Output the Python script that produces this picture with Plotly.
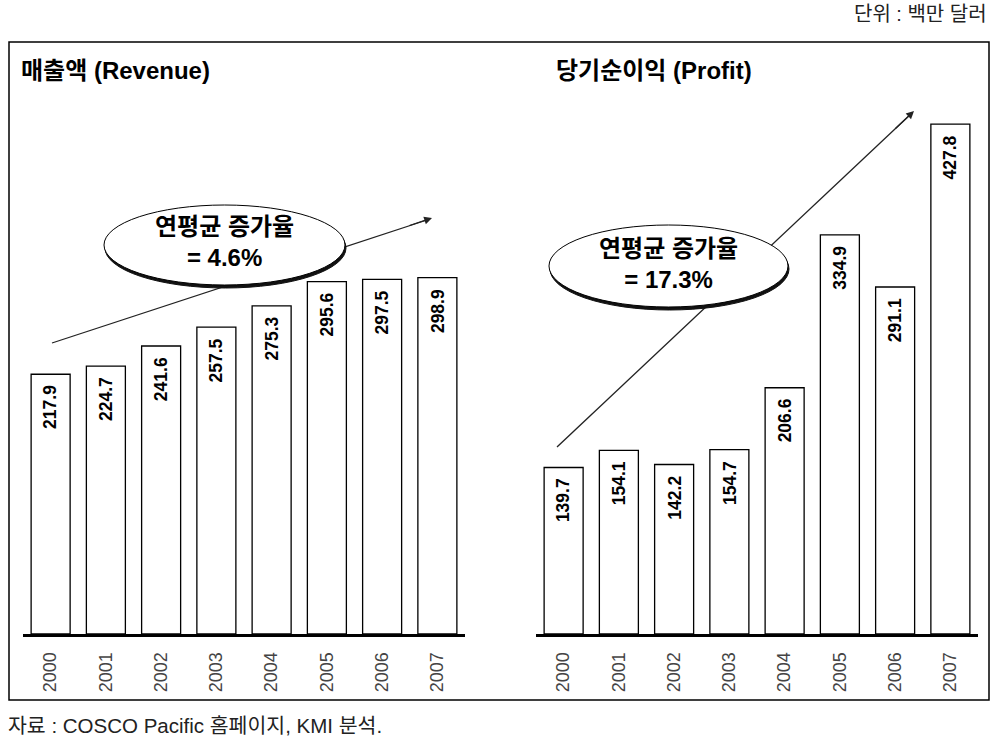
import plotly.graph_objects as go

years = ["2000", "2001", "2002", "2003", "2004", "2005", "2006", "2007"]
revenue = [217.9, 224.7, 241.6, 257.5, 275.3, 295.6, 297.5, 298.9]
profit = [139.7, 154.1, 142.2, 154.7, 206.6, 334.9, 291.1, 427.8]

W, H = 1001, 748
KFONT = "Liberation Sans, Noto Sans CJK KR, sans-serif"


def px(x):
    return x / W


def py(y):
    return 1 - y / H


fig = go.Figure()

for vals, xa, ya in [(revenue, "x", "y"), (profit, "x2", "y2")]:
    fig.add_trace(go.Bar(
        x=years, y=vals, xaxis=xa, yaxis=ya,
        marker=dict(color="white", line=dict(color="black", width=1.3)),
        showlegend=False, hoverinfo="x+y",
    ))
    for i, v in enumerate(vals):
        fig.add_annotation(
            x=i, y=v, xref=xa, yref=ya, text=f"{v:.1f}", showarrow=False,
            textangle=-90, yanchor="top", yshift=-9,
            font=dict(family="Liberation Sans, Arial", size=17.5, color="black", weight="bold"),
        )

axis_x = dict(
    type="category", range=[-0.5, 7.5], autorange=False, automargin=False,
    showline=True, linewidth=3, linecolor="black", ticks="",
    tickangle=-90, showgrid=False, ticklabelstandoff=8,
    tickfont=dict(family="Liberation Sans, Arial", size=18, color="#444"),
    fixedrange=True,
)
axis_y = dict(range=[0, 448], autorange=False, automargin=False, visible=False,
              domain=[py(634), py(100)], fixedrange=True)

fig.update_layout(
    width=W, height=H, margin=dict(l=0, r=0, t=0, b=0, autoexpand=False),
    paper_bgcolor="white", plot_bgcolor="rgba(0,0,0,0)",
    bargap=0.294,
    xaxis=dict(axis_x, domain=[px(23), px(465)], anchor="y"),
    yaxis=dict(axis_y, anchor="x"),
    xaxis2=dict(axis_x, domain=[px(536), px(978)], anchor="y2"),
    yaxis2=dict(axis_y, anchor="x2"),
)

shapes = [
    # outer frame
    dict(type="rect", xref="paper", yref="paper", x0=px(9), y0=py(700), x1=px(989), y1=py(42),
         line=dict(color="black", width=1.5), fillcolor="rgba(0,0,0,0)"),
    # trend lines
    dict(type="line", xref="paper", yref="paper", x0=px(52), y0=py(343), x1=px(430), y1=py(219),
         line=dict(color="#222", width=1.3)),
    dict(type="line", xref="paper", yref="paper", x0=px(557), y0=py(447), x1=px(912), y1=py(113),
         line=dict(color="#222", width=1.3)),
]
# ellipses with shadow
for x0, y0, x1, y1 in [(104, 205, 345, 285), (549, 225, 788, 307)]:
    shapes.append(dict(type="circle", xref="paper", yref="paper",
                       x0=px(x0 + 1), y0=py(y1 + 3), x1=px(x1 + 1), y1=py(y0 + 3),
                       fillcolor="#111", line=dict(color="#111", width=1)))
    shapes.append(dict(type="circle", xref="paper", yref="paper",
                       x0=px(x0), y0=py(y1), x1=px(x1), y1=py(y0),
                       fillcolor="white", line=dict(color="black", width=1)))
fig.update_layout(shapes=shapes)

# arrow heads
for hx, hy, ax, ay in [(432, 218, -24, 8), (914, 111, -20, 19)]:
    fig.add_annotation(x=px(hx), y=py(hy), xref="paper", yref="paper", ax=ax, ay=ay,
                       showarrow=True, arrowhead=2, arrowsize=1.2, arrowwidth=1.3,
                       arrowcolor="#222", text="")


def note(x, y, text, size, xanchor="center", bold=False, family=KFONT, color="black"):
    fig.add_annotation(x=px(x), y=py(y), xref="paper", yref="paper", showarrow=False,
                       xanchor=xanchor, yanchor="middle", text=text, align="center",
                       font=dict(family=family, size=size, color=color,
                                 weight="bold" if bold else "normal"))


# ellipse texts
note(224, 242, "연평균 증가율<br>= 4.6%", 24, bold=True)
note(668, 264, "연평균 증가율<br>= 17.3%", 24, bold=True)

# titles and notes
note(19, 70, "매출액 (Revenue)", 24, xanchor="left", bold=True)
note(554, 70, "당기순이익 (Profit)", 24, xanchor="left", bold=True)
note(989, 14, "단위 : 백만 달러", 20, xanchor="right", color="#222")
note(6, 725, "자료 : COSCO Pacific 홈페이지, KMI 분석.", 20.5, xanchor="left", color="#222")

fig.write_html("out.html", config={"displayModeBar": False},
               post_script="document.body.style.margin='0';")
